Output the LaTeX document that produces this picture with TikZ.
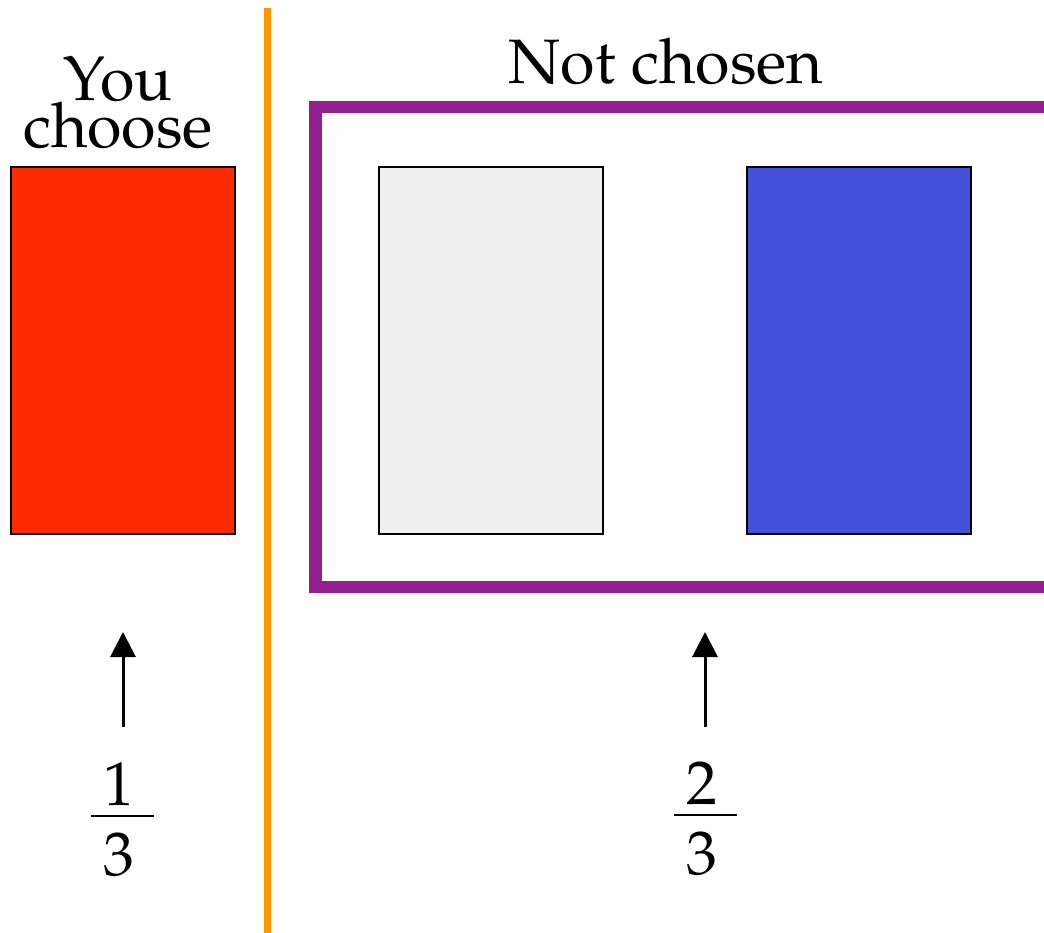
\documentclass[tikz,border=0pt]{standalone}
\usepackage[T1]{fontenc}
\usepackage{mathpazo}
\usetikzlibrary{arrows.meta}
\definecolor{doorred}{HTML}{FF2A00}
\definecolor{doorgray}{HTML}{EFEFEF}
\definecolor{doorblue}{HTML}{4350D8}
\definecolor{divorange}{HTML}{FF9500}
\definecolor{boxpurple}{HTML}{931F8F}
% a fraction with the spacing of the reference
\newcommand{\stackfrac}[2]{\vbox{\offinterlineskip
  \hbox to 63bp{\hfil$#1$\hfil\hspace{8bp}}\kern 9bp
  \hrule height 2bp
  \kern 17bp
  \hbox to 63bp{\hfil$#2$\hfil\hspace{8bp}}}}
\tikzset{
  door/.style={draw=black, line width=2bp, minimum width=224bp, minimum height=367bp, inner sep=0pt},
  bigtext/.style={font=\fontsize{63}{47}\selectfont, align=center, inner sep=0pt},
  fracnode/.style={font=\fontsize{62}{74}\selectfont, inner sep=0pt, anchor=north},
  uparrow/.style={line width=3bp, -{Triangle[length=25bp,width=25bp]}}
}
\begin{document}
\begin{tikzpicture}[x=1bp,y=-1bp]
\useasboundingbox (0,0) rectangle (1044,933);
\clip (0,0) rectangle (1044,933);
% divider
\draw[divorange, line width=7bp] (267.5,8) -- (267.5,940);
% purple frame (open on the right)
\draw[boxpurple, line width=12.5bp, line join=miter] (1060,107) -- (315.5,107) -- (315.5,587) -- (1060,587);
% doors
\node[door, fill=doorred]  (red)  at (123,350.5) {};
\node[door, fill=doorgray] (gray) at (491,350.5) {};
\node[door, fill=doorblue] (blue) at (859,350.5) {};
% labels
\node[bigtext, anchor=base] (you) at (118,147) {You\\choose};
\node[bigtext, anchor=base] (not) at (666,83) {Not chosen};
% fractions
\node[fracnode] (f1) at (122.5,762) {\stackfrac{1}{3}};
\node[fracnode] (f2) at (705.5,762) {\stackfrac{2}{3}};
% arrows
\coordinate (a1s) at (123,727);
\coordinate (a1e) at (123,632);
\coordinate (a2s) at (705,727);
\coordinate (a2e) at (705,632);
\draw[uparrow] (a1s) -- (a1e);
\draw[uparrow] (a2s) -- (a2e);
\end{tikzpicture}
\end{document}
